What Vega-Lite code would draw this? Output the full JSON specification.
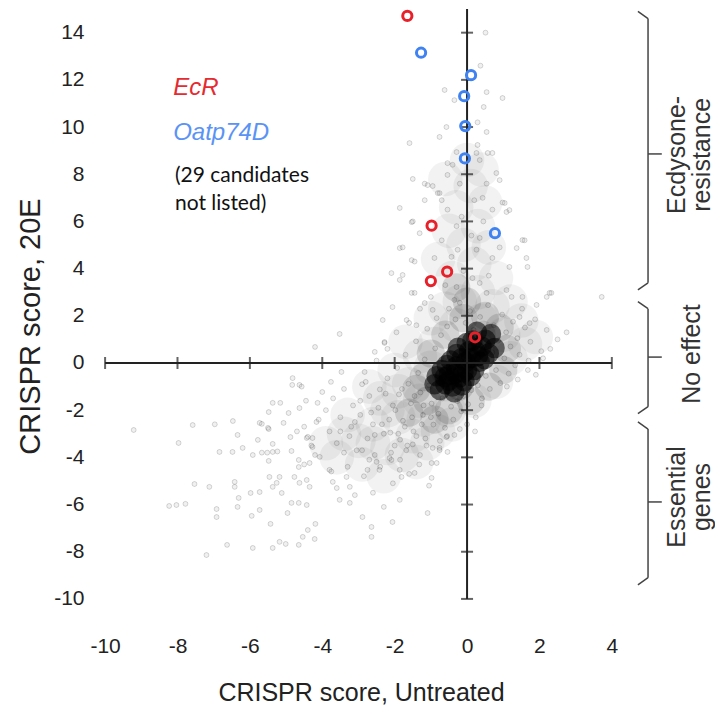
{
"$schema":"https://vega.github.io/schema/vega-lite/v6.json",
"width":628,"height":604,"autosize":"none",
"padding":{"left":87,"top":2,"right":0,"bottom":102},
"background":"white",
"config":{"view":{"stroke":null},"font":"Liberation Sans"},
"encoding":{
 "x":{"field":"x","type":"quantitative","scale":{"domain":[-10.5,6.85],"nice":false,"zero":false},
  "axis":{"values":[-10,-8,-6,-4,-2,0,2,4],"labelExpr":"'' + datum.value","domain":false,"ticks":false,"grid":false,"labelFont":"Liberation Sans","labelFontSize":21,"labelColor":"#222","labelPadding":29,"labelFlush":false,"labelOverlap":false,"labelBound":false,
   "title":"CRISPR score, Untreated","titleFont":"Liberation Sans","titleFontSize":25,"titleFontWeight":"normal","titleColor":"#222","titleX":274,"titleY":86,"titleBaseline":"middle","titleAlign":"center"}},
 "y":{"field":"y","type":"quantitative","scale":{"domain":[-10.3,15.3],"nice":false,"zero":false},
  "axis":{"values":[-10,-8,-6,-4,-2,0,2,4,6,8,10,12,14],"labelExpr":"'' + datum.value","domain":false,"ticks":false,"grid":false,"labelFont":"Liberation Sans","labelFontSize":21,"labelColor":"#222","labelPadding":3,"labelOverlap":false,"labelBound":false,"labelFlush":false,
   "title":"CRISPR score, 20E","titleFont":"Liberation Sans","titleFontSize":29,"titleFontWeight":"normal","titleColor":"#222","titleX":-57,"titleY":324,"titleAngle":-90,"titleBaseline":"middle","titleAlign":"center"}}
},
"datasets":{
 "haze":[
  {"x":-1.3,"y":-1.6},{"x":-1.0,"y":-0.2},{"x":-0.9,"y":0.8},{"x":-0.3,"y":1.6},{"x":0.4,"y":1.8},{"x":1.0,"y":1.2},{"x":1.2,"y":0.2},{"x":0.8,"y":-0.8},{"x":0.2,"y":-1.6},{"x":-0.5,"y":-2.0},{"x":-1.6,"y":-0.9},{"x":-1.9,"y":-2.3},
  {"x":-2.4,"y":-1.5},{"x":-2.6,"y":-2.6},{"x":-2.2,"y":-3.6},{"x":-1.5,"y":-3.1},{"x":-0.8,"y":-2.9},{"x":-2.0,"y":-0.3},{"x":-1.7,"y":0.9},{"x":-1.0,"y":1.9},{"x":1.5,"y":1.8},{"x":1.6,"y":0.8},{"x":-3.0,"y":-3.3},{"x":-3.3,"y":-2.2},{"x":-2.9,"y":-4.3},{"x":-3.6,"y":-4.0},{"x":-2.3,"y":-4.8},{"x":-1.4,"y":-4.2},
  {"x":-0.2,"y":2.6},{"x":0.3,"y":3.0},{"x":-0.4,"y":3.6},{"x":0.2,"y":4.2},{"x":-0.1,"y":5.0},{"x":0.3,"y":5.8},{"x":-0.3,"y":6.6},{"x":0.1,"y":7.5},{"x":0.0,"y":8.6},
  {"x":-0.6,"y":-0.9},{"x":0.3,"y":0.6},{"x":-0.2,"y":-0.3},
  {"x":-1.9,"y":-1.2},{"x":-2.2,"y":-2.0},{"x":-1.2,"y":-2.4},{"x":-0.4,"y":-2.6},{"x":-1.1,"y":-3.4},{"x":-1.8,"y":-3.9},{"x":-2.6,"y":-3.4},{"x":-1.3,"y":0.3},{"x":-0.6,"y":2.3},{"x":0.7,"y":2.4},{"x":1.2,"y":2.6},{"x":0.8,"y":3.6},{"x":-0.8,"y":4.4},{"x":0.6,"y":4.9},{"x":-0.5,"y":5.6},{"x":0.5,"y":6.8},{"x":-0.6,"y":7.8},{"x":0.4,"y":8.2},{"x":1.9,"y":1.1},{"x":-2.7,"y":-1.0},{"x":-3.4,"y":-3.0},{"x":-3.9,"y":-3.4}
 ],
 "mid":[
  {"x":-1.1,"y":-1.6},{"x":-1.2,"y":-0.6},{"x":-1.0,"y":0.4},{"x":-0.6,"y":1.2},{"x":-0.1,"y":1.9},{"x":0.5,"y":2.0},{"x":0.9,"y":1.5},{"x":1.1,"y":0.6},{"x":1.0,"y":-0.3},{"x":0.6,"y":-1.0},{"x":0.1,"y":-1.6},{"x":-0.5,"y":-2.0},{"x":-1.4,"y":-1.1},{"x":-0.6,"y":-0.4},{"x":0.2,"y":0.4},{"x":-0.2,"y":-1.0},{"x":0.4,"y":1.2},{"x":-1.6,"y":-2.1},{"x":-0.9,"y":-2.4},{"x":0.0,"y":2.6},{"x":-0.3,"y":3.2}
 ],
 "core":[
  {"x":-0.60,"y":-0.90},{"x":-0.84,"y":-0.56},{"x":-0.35,"y":-1.24},{"x":-0.32,"y":-0.43},{"x":-0.56,"y":-0.09},{"x":-0.07,"y":-0.77},{"x":-0.04,"y":0.04},{"x":-0.29,"y":0.38},{"x":0.20,"y":-0.30},{"x":0.23,"y":0.51},{"x":-0.01,"y":0.85},{"x":0.48,"y":0.17},{"x":0.51,"y":0.98},{"x":0.27,"y":1.32},{"x":0.76,"y":0.64},{"x":-0.75,"y":-1.15},{"x":0.66,"y":1.23},
  {"x":-0.5,"y":-0.5},{"x":-0.2,"y":-0.6},{"x":-0.7,"y":-0.3},{"x":-0.4,"y":-1.0},{"x":0.0,"y":-0.3},{"x":-0.15,"y":0.2},
  {"x":-0.45,"y":0.1},{"x":0.1,"y":0.2},{"x":0.35,"y":0.05},{"x":0.15,"y":0.95},{"x":0.4,"y":0.7},{"x":-0.15,"y":-0.95},{"x":0.1,"y":-0.55},{"x":-0.62,"y":-0.6},{"x":-0.25,"y":0.65},{"x":0.6,"y":0.4},{"x":-0.9,"y":-0.9},
  {"x":-0.3,"y":-0.15},{"x":0.05,"y":0.5},{"x":-0.5,"y":-0.75},{"x":0.3,"y":0.3},{"x":-0.1,"y":-0.4}
 ],
 "pts":[
  {"x":-9.21,"y":-2.84},{"x":-7.97,"y":-3.39},{"x":-7.58,"y":-2.63},{"x":-6.97,"y":-2.6},{"x":-6.47,"y":-2.46},{"x":-6.34,"y":-3.05},{"x":-6.2,"y":-3.6},{"x":-6.84,"y":-3.77},{"x":-6.48,"y":-3.77},{"x":-5.92,"y":-3.9},{"x":-5.67,"y":-3.8},{"x":-5.52,"y":-3.8},{"x":-5.37,"y":-3.77},{"x":-5.24,"y":-3.75},{"x":-5.48,"y":-4.15},{"x":-7.53,"y":-5.13},{"x":-7.12,"y":-5.25},{"x":-8.23,"y":-6.06},{"x":-8.03,"y":-6.02},{"x":-7.78,"y":-5.97},{"x":-6.92,"y":-6.19},{"x":-6.92,"y":-6.53},{"x":-6.42,"y":-5.04},{"x":-6.42,"y":-5.25},{"x":-6.31,"y":-5.72},{"x":-6.34,"y":-6.1},{"x":-5.95,"y":-6.48},{"x":-5.73,"y":-6.23},{"x":-6.63,"y":-7.71},{"x":-7.2,"y":-8.14},{"x":-5.92,"y":-7.84},{"x":-5.37,"y":-7.84},{"x":-5.18,"y":-7.58},{"x":-5.01,"y":-7.67},{"x":-4.65,"y":-7.71},{"x":-5.43,"y":-6.82},{"x":-4.96,"y":-6.36},{"x":-4.85,"y":-5.93},{"x":-4.65,"y":-5.93},{"x":-4.43,"y":-6.02},{"x":-4.54,"y":-7.37},{"x":-4.4,"y":-7.08},{"x":-4.21,"y":-7.46},{"x":-4.19,"y":-6.82},{"x":-5.98,"y":-5.51},{"x":-5.73,"y":-5.47},{"x":-5.37,"y":-5.25},{"x":-5.26,"y":-5.08},{"x":-5.12,"y":-5.51},{"x":-5.46,"y":-4.83},{"x":-5.18,"y":-4.83},{"x":-4.77,"y":-4.83},{"x":-4.63,"y":-5.08},{"x":-4.43,"y":-4.96},{"x":-4.35,"y":-5.25},{"x":-4.65,"y":-4.41},{"x":-4.85,"y":-3.73},{"x":-4.65,"y":-4.11},{"x":-4.35,"y":-4.24},{"x":-4.2,"y":-3.9},{"x":-5.78,"y":-3.26},{"x":-5.37,"y":-3.43},{"x":-5.48,"y":-2.8},{"x":-5.67,"y":-2.58},{"x":-5.07,"y":-2.54},{"x":-4.93,"y":-2.12},{"x":-5.48,"y":-2.08},{"x":-5.37,"y":-1.69},{"x":-5.16,"y":-1.69},{"x":-4.63,"y":-1.91},{"x":-4.83,"y":-0.93},{"x":-4.63,"y":-0.93},{"x":-4.88,"y":-3.14},{"x":-4.5,"y":-2.7},{"x":-4.43,"y":-3.18},{"x":-4.27,"y":-3.18},{"x":-4.13,"y":-1.69},{"x":-4.16,"y":-2.5},{"x":-4.82,"y":-0.64},{"x":-4.57,"y":-1.0},{"x":-5.73,"y":-2.54},{"x":-5.5,"y":-2.75},
  {"x":-3.52,"y":1.23},{"x":-4.2,"y":0.68},{"x":-2.28,"y":0.85},{"x":-2.83,"y":-0.38},{"x":-3.47,"y":-0.38},{"x":-3.76,"y":-0.8},{"x":-4.0,"y":-1.23},{"x":-4.4,"y":-3.13},{"x":-4.27,"y":-3.56},{"x":-4.07,"y":-3.98},{"x":-3.8,"y":-4.53},{"x":-3.71,"y":-5.04},{"x":-3.33,"y":-4.83},{"x":-3.24,"y":-5.25},{"x":-3.52,"y":-5.8},{"x":-2.75,"y":-4.53},{"x":-2.5,"y":-4.19},{"x":-2.14,"y":-4.03},{"x":-1.86,"y":-4.53},{"x":-1.45,"y":-4.66},{"x":-0.98,"y":-4.24},{"x":-0.76,"y":-3.6},{"x":-0.57,"y":-3.14},{"x":-1.86,"y":-5.8},{"x":-3.24,"y":-5.93},{"x":-0.76,"y":-3.69},{"x":-0.54,"y":-3.77},{"x":-0.84,"y":-4.24},{"x":-0.98,"y":-4.87},{"x":-1.09,"y":-6.36},{"x":-2.06,"y":-6.74},{"x":-2.64,"y":-6.95},{"x":-2.64,"y":-7.37},{"x":-2.89,"y":-6.53},{"x":-1.81,"y":-4.83},{"x":-2.09,"y":-4.11},{"x":-2.42,"y":-4.53},
  {"x":-3.9,"y":-2.0},{"x":-3.8,"y":-2.9},{"x":-3.7,"y":-1.5},{"x":-3.6,"y":-3.4},{"x":-3.5,"y":-2.3},{"x":-3.4,"y":-1.1},{"x":-3.3,"y":-4.4},{"x":-3.2,"y":-2.7},{"x":-3.15,"y":-1.8},{"x":-3.05,"y":-3.7},{"x":-2.95,"y":-2.2},{"x":-2.9,"y":-0.9},{"x":-2.85,"y":-4.8},{"x":-2.75,"y":-3.2},{"x":-2.7,"y":-1.4},{"x":-2.6,"y":-2.6},{"x":-2.55,"y":-3.9},{"x":-2.45,"y":-1.9},{"x":-2.4,"y":-4.4},{"x":-2.3,"y":-3.0},{"x":-2.25,"y":-1.3},{"x":-2.15,"y":-2.4},{"x":-2.1,"y":-3.8},{"x":-2.05,"y":-5.1},{"x":-1.98,"y":-2.0},{"x":-1.9,"y":-3.0},{"x":-1.85,"y":-4.1},{"x":-1.8,"y":-1.1},{"x":-1.72,"y":-2.7},{"x":-1.65,"y":-3.5},{"x":-1.6,"y":-4.7},{"x":-1.52,"y":-2.3},{"x":-1.45,"y":-1.4},{"x":-1.4,"y":-3.1},{"x":-1.32,"y":-4.3},{"x":-1.25,"y":-2.6},{"x":-1.2,"y":-1.8},{"x":-1.12,"y":-3.5},{"x":-1.05,"y":-5.2},{"x":-1.0,"y":-2.3},{"x":-3.75,"y":-4.6},{"x":-3.6,"y":-5.3},{"x":-3.1,"y":-5.6},{"x":-2.6,"y":-5.5},{"x":-2.3,"y":-6.1},{"x":-4.1,"y":-2.4},{"x":-4.3,"y":-3.5},{"x":-4.45,"y":-1.6},{"x":-4.5,"y":-4.3},{"x":-4.7,"y":-2.9},
  {"x":-2.41,"y":-1.12},{"x":-2.2,"y":-0.65},{"x":-2.05,"y":-1.8},{"x":-1.93,"y":-0.21},{"x":-1.88,"y":-1.33},{"x":-1.77,"y":-2.45},{"x":-1.7,"y":0.35},{"x":-1.62,"y":-0.88},{"x":-1.55,"y":-1.71},{"x":-1.48,"y":-2.9},{"x":-1.41,"y":0.92},{"x":-1.35,"y":-0.42},{"x":-1.29,"y":-1.25},{"x":-1.22,"y":-2.2},{"x":-1.17,"y":0.15},{"x":-1.1,"y":1.45},{"x":-1.05,"y":-0.95},{"x":-0.98,"y":-1.72},{"x":-0.93,"y":-2.61},{"x":-0.88,"y":0.62},{"x":-0.84,"y":1.9},{"x":-0.79,"y":-2.15},{"x":-0.72,"y":1.18},{"x":-0.68,"y":-1.5},{"x":-0.61,"y":-2.75},{"x":-0.55,"y":1.55},{"x":-0.5,"y":2.3},{"x":-0.44,"y":-1.85},{"x":-0.38,"y":-2.4},{"x":-0.32,"y":1.85},{"x":-0.27,"y":-1.62},{"x":-0.2,"y":2.55},{"x":-0.16,"y":-2.05},{"x":-0.1,"y":-1.4},{"x":-0.04,"y":1.7},{"x":0.03,"y":-1.75},{"x":0.08,"y":2.2},{"x":0.12,"y":-1.15},{"x":0.18,"y":1.4},{"x":0.24,"y":-2.3},{"x":0.3,"y":-0.95},{"x":0.36,"y":1.95},{"x":0.41,"y":-1.5},{"x":0.47,"y":1.25},{"x":0.52,"y":-0.55},{"x":0.58,"y":2.45},{"x":0.63,"y":-1.1},{"x":0.7,"y":0.45},{"x":0.74,"y":1.6},{"x":0.8,"y":-0.3},{"x":0.86,"y":0.95},{"x":0.92,"y":-0.85},{"x":0.97,"y":2.05},{"x":1.03,"y":0.2},{"x":1.08,"y":1.3},{"x":1.15,"y":-0.45},{"x":1.2,"y":0.7},{"x":1.27,"y":1.75},{"x":1.33,"y":-0.1},{"x":1.39,"y":1.05},{"x":1.45,"y":0.35},{"x":1.52,"y":2.3},{"x":1.6,"y":1.5},{"x":1.68,"y":-0.3},{"x":1.75,"y":0.9},{"x":1.88,"y":1.85},{"x":2.05,"y":0.5},{"x":2.2,"y":1.4},{"x":-2.65,"y":-2.1},{"x":-2.55,"y":-3.05},{"x":-2.35,"y":-2.6},{"x":-2.12,"y":-2.95},{"x":-2.0,"y":-3.5},{"x":-1.85,"y":-3.25},{"x":-1.68,"y":-3.7},{"x":-1.5,"y":-3.45},{"x":-1.3,"y":-3.9},{"x":-1.15,"y":-3.2},{"x":-0.95,"y":-3.6},{"x":-0.75,"y":-3.3},{"x":-0.55,"y":-3.1},{"x":-0.35,"y":-3.05},{"x":-0.2,"y":-2.8},{"x":0.0,"y":-2.6},{"x":0.22,"y":-2.9},{"x":-2.95,"y":-1.6},{"x":-2.8,"y":-0.8},{"x":-2.5,"y":0.1},{"x":-2.2,"y":0.6},{"x":-1.95,"y":1.3},{"x":-1.6,"y":1.7},{"x":-1.3,"y":2.3},{"x":-1.0,"y":2.8},{"x":-3.1,"y":-2.5},{"x":-3.25,"y":-3.1},{"x":-2.9,"y":-3.7},{"x":-2.7,"y":-4.1},{"x":-3.5,"y":-2.9},{"x":-3.4,"y":-3.8},
  {"x":1.1,"y":-1.0},{"x":1.4,"y":-0.7},{"x":1.7,"y":0.1},{"x":2.3,"y":0.6},{"x":2.5,"y":1.0},{"x":2.75,"y":1.3},{"x":2.28,"y":2.97},{"x":3.72,"y":2.8},{"x":1.9,"y":-0.5},{"x":2.1,"y":0.2},{"x":0.4,"y":-1.8},
  {"x":-1.5,"y":7.8},{"x":-1.17,"y":7.6},{"x":-0.95,"y":7.5},{"x":-0.76,"y":7.2},{"x":-0.7,"y":6.9},{"x":-1.17,"y":6.9},{"x":-0.54,"y":7.97},{"x":-0.4,"y":8.4},{"x":0.26,"y":8.9},{"x":0.57,"y":8.9},{"x":0.9,"y":7.75},{"x":0.54,"y":7.6},{"x":0.43,"y":7.0},{"x":0.98,"y":6.8},{"x":1.09,"y":6.4},{"x":0.7,"y":6.5},{"x":-1.5,"y":6.0},{"x":-1.31,"y":5.5},{"x":-0.54,"y":6.5},{"x":-0.29,"y":5.8},{"x":0.35,"y":5.3},{"x":0.9,"y":4.9},{"x":1.59,"y":5.2},{"x":-1.78,"y":4.9},{"x":-1.45,"y":4.3},{"x":-0.9,"y":4.45},{"x":-0.26,"y":4.8},{"x":-0.43,"y":4.5},{"x":0.26,"y":4.8},{"x":0.7,"y":4.45},{"x":1.17,"y":4.07},{"x":1.64,"y":4.45},{"x":1.67,"y":4.07},{"x":-1.78,"y":3.73},{"x":-1.45,"y":2.97},{"x":-1.17,"y":2.54},{"x":-0.95,"y":2.25},{"x":-0.29,"y":3.22},{"x":-0.35,"y":2.67},{"x":0.35,"y":3.39},{"x":0.54,"y":2.97},{"x":1.09,"y":3.09},{"x":1.23,"y":2.8},{"x":1.53,"y":2.8},{"x":1.92,"y":2.46},{"x":2.2,"y":2.8},{"x":1.45,"y":1.95},{"x":1.73,"y":1.69},{"x":-1.67,"y":1.82},{"x":-1.4,"y":1.6},
  {"x":0.51,"y":14.0},{"x":0.37,"y":12.6},{"x":-0.62,"y":11.57},{"x":-0.35,"y":11.14},{"x":0.54,"y":11.48},{"x":0.98,"y":11.23},{"x":0.46,"y":10.85},{"x":-0.76,"y":9.58},{"x":-0.57,"y":10.0},{"x":0.29,"y":10.2},{"x":0.54,"y":9.79},{"x":-1.59,"y":9.32},{"x":0.29,"y":9.24},{"x":0.7,"y":8.9},{"x":-0.29,"y":8.94},{"x":-0.54,"y":8.47},{"x":0.35,"y":8.6},{"x":0.81,"y":8.05},{"x":-1.09,"y":7.54},{"x":-0.81,"y":7.2},{"x":-1.86,"y":6.57},{"x":-1.53,"y":5.97},{"x":-1.86,"y":4.87},{"x":-1.53,"y":4.36},{"x":-2.09,"y":3.81},{"x":-1.86,"y":3.52},{"x":-1.53,"y":2.97},{"x":1.37,"y":4.87},{"x":1.53,"y":5.21},{"x":1.17,"y":6.48},{"x":1.04,"y":6.78},{"x":2.33,"y":2.97},{"x":-2.06,"y":2.37},{"x":-2.33,"y":1.82},{"x":-2.55,"y":0.47},{"x":-2.28,"y":0.89},
  {"x":-0.1,"y":3.9},{"x":0.15,"y":3.6},{"x":-0.6,"y":3.3},{"x":0.6,"y":3.7},{"x":-0.15,"y":6.2},{"x":0.2,"y":6.9},{"x":-0.2,"y":7.6},{"x":0.12,"y":5.4},{"x":-0.7,"y":5.2},{"x":0.45,"y":6.0}
 ],
 "axes":[{"x":-10,"x2":4,"y":0,"y2":0},{"x":0,"x2":0,"y":-10,"y2":15}],
 "xt":[{"x":-10,"y":0},{"x":-8,"y":0},{"x":-6,"y":0},{"x":-4,"y":0},{"x":-2,"y":0},{"x":2,"y":0},{"x":4,"y":0}],
 "yt":[{"x":0,"y":-10},{"x":0,"y":-8},{"x":0,"y":-6},{"x":0,"y":-4},{"x":0,"y":-2},{"x":0,"y":2},{"x":0,"y":4},{"x":0,"y":6},{"x":0,"y":8},{"x":0,"y":10},{"x":0,"y":12},{"x":0,"y":14}],
 "hits":[
  {"x":-1.65,"y":14.71,"g":"EcR"},{"x":-0.98,"y":5.82,"g":"EcR"},{"x":-0.55,"y":3.87,"g":"EcR"},{"x":-1.0,"y":3.47,"g":"EcR"},{"x":0.22,"y":1.09,"g":"EcR"},
  {"x":-1.27,"y":13.15,"g":"Oatp74D"},{"x":0.11,"y":12.2,"g":"Oatp74D"},{"x":-0.08,"y":11.31,"g":"Oatp74D"},{"x":-0.05,"y":10.04,"g":"Oatp74D"},{"x":-0.06,"y":8.67,"g":"Oatp74D"},{"x":0.77,"y":5.5,"g":"Oatp74D"}
 ],
 "braces":[
  {"x":4.72,"y":14.9,"x2":5.0,"y2":14.6},{"x":5.0,"y":14.6,"x2":5.0,"y2":3.4},{"x":5.0,"y":3.4,"x2":4.72,"y2":3.1},{"x":5.0,"y":8.86,"x2":5.38,"y2":8.86},
  {"x":4.72,"y":2.6,"x2":5.0,"y2":2.3},{"x":5.0,"y":2.3,"x2":5.0,"y2":-1.85},{"x":5.0,"y":-1.85,"x2":4.72,"y2":-2.15},{"x":5.0,"y":0.25,"x2":5.38,"y2":0.25},
  {"x":4.72,"y":-2.5,"x2":5.0,"y2":-2.8},{"x":5.0,"y":-2.8,"x2":5.0,"y2":-9.1},{"x":5.0,"y":-9.1,"x2":4.72,"y2":-9.4},{"x":5.0,"y":-5.89,"x2":5.38,"y2":-5.89}
 ],
 "blabels":[
  {"x":5.8,"y":8.82,"t":"Ecdysone-\nresistance"},{"x":6.21,"y":0.38,"t":"No effect"},{"x":5.8,"y":-5.68,"t":"Essential\ngenes"}
 ]
},
"layer":[
 {"data":{"name":"haze"},"mark":{"type":"circle","size":1200,"color":"#000","opacity":0.05}},
 {"data":{"name":"pts"},"mark":{"type":"point","shape":"circle","size":24,"filled":false,"fill":"#000","fillOpacity":0.06,"stroke":"#000","strokeOpacity":0.2,"strokeWidth":0.8}},
 {"data":{"name":"mid"},"mark":{"type":"circle","size":800,"color":"#000","opacity":0.12}},
 {"data":{"name":"core"},"mark":{"type":"circle","size":420,"color":"#000","opacity":0.55}},
 {"data":{"name":"axes"},"mark":{"type":"rule","color":"#222","strokeWidth":2},"encoding":{"x2":{"field":"x2"},"y2":{"field":"y2"}}},
 {"data":{"name":"xt"},"mark":{"type":"tick","orient":"vertical","size":12,"thickness":2,"color":"#222"}},
 {"data":{"name":"yt"},"mark":{"type":"tick","orient":"horizontal","size":12,"thickness":2,"color":"#222"}},
 {"data":{"name":"hits"},"mark":{"type":"point","shape":"circle","filled":false,"size":85,"strokeWidth":3,"opacity":1},
  "encoding":{"color":{"field":"g","type":"nominal","scale":{"domain":["EcR","Oatp74D"],"range":["#e8202a","#3f82f2"]},"legend":null}}},
 {"data":{"name":"braces"},"mark":{"type":"rule","color":"#444","strokeWidth":1.5},"encoding":{"x2":{"field":"x2"},"y2":{"field":"y2"}}},
 {"data":{"name":"blabels"},"mark":{"type":"text","font":"Liberation Sans","angle":270,"fontSize":25,"lineHeight":25,"lineBreak":"\n","align":"center","baseline":"middle","color":"#333"},"encoding":{"text":{"field":"t"}}},
 {"data":{"values":[{"x":-8.12,"y":11.36,"t":"EcR"}]},"mark":{"type":"text","font":"Liberation Sans","fontSize":24,"fontStyle":"italic","align":"left","baseline":"alphabetic","color":"#e52a30"},"encoding":{"text":{"field":"t"}}},
 {"data":{"values":[{"x":-8.12,"y":9.45,"t":"Oatp74D"}]},"mark":{"type":"text","font":"Liberation Sans","fontSize":24,"fontStyle":"italic","align":"left","baseline":"alphabetic","color":"#5b93f5"},"encoding":{"text":{"field":"t"}}},
 {"data":{"values":[{"x":-8.07,"y":7.67,"t":"(29 candidates"},{"x":-8.07,"y":6.5,"t":"not listed)"}]},"mark":{"type":"text","font":"Lato","fontSize":21,"align":"left","baseline":"alphabetic","color":"#111"},"encoding":{"text":{"field":"t"}}}
]
}
